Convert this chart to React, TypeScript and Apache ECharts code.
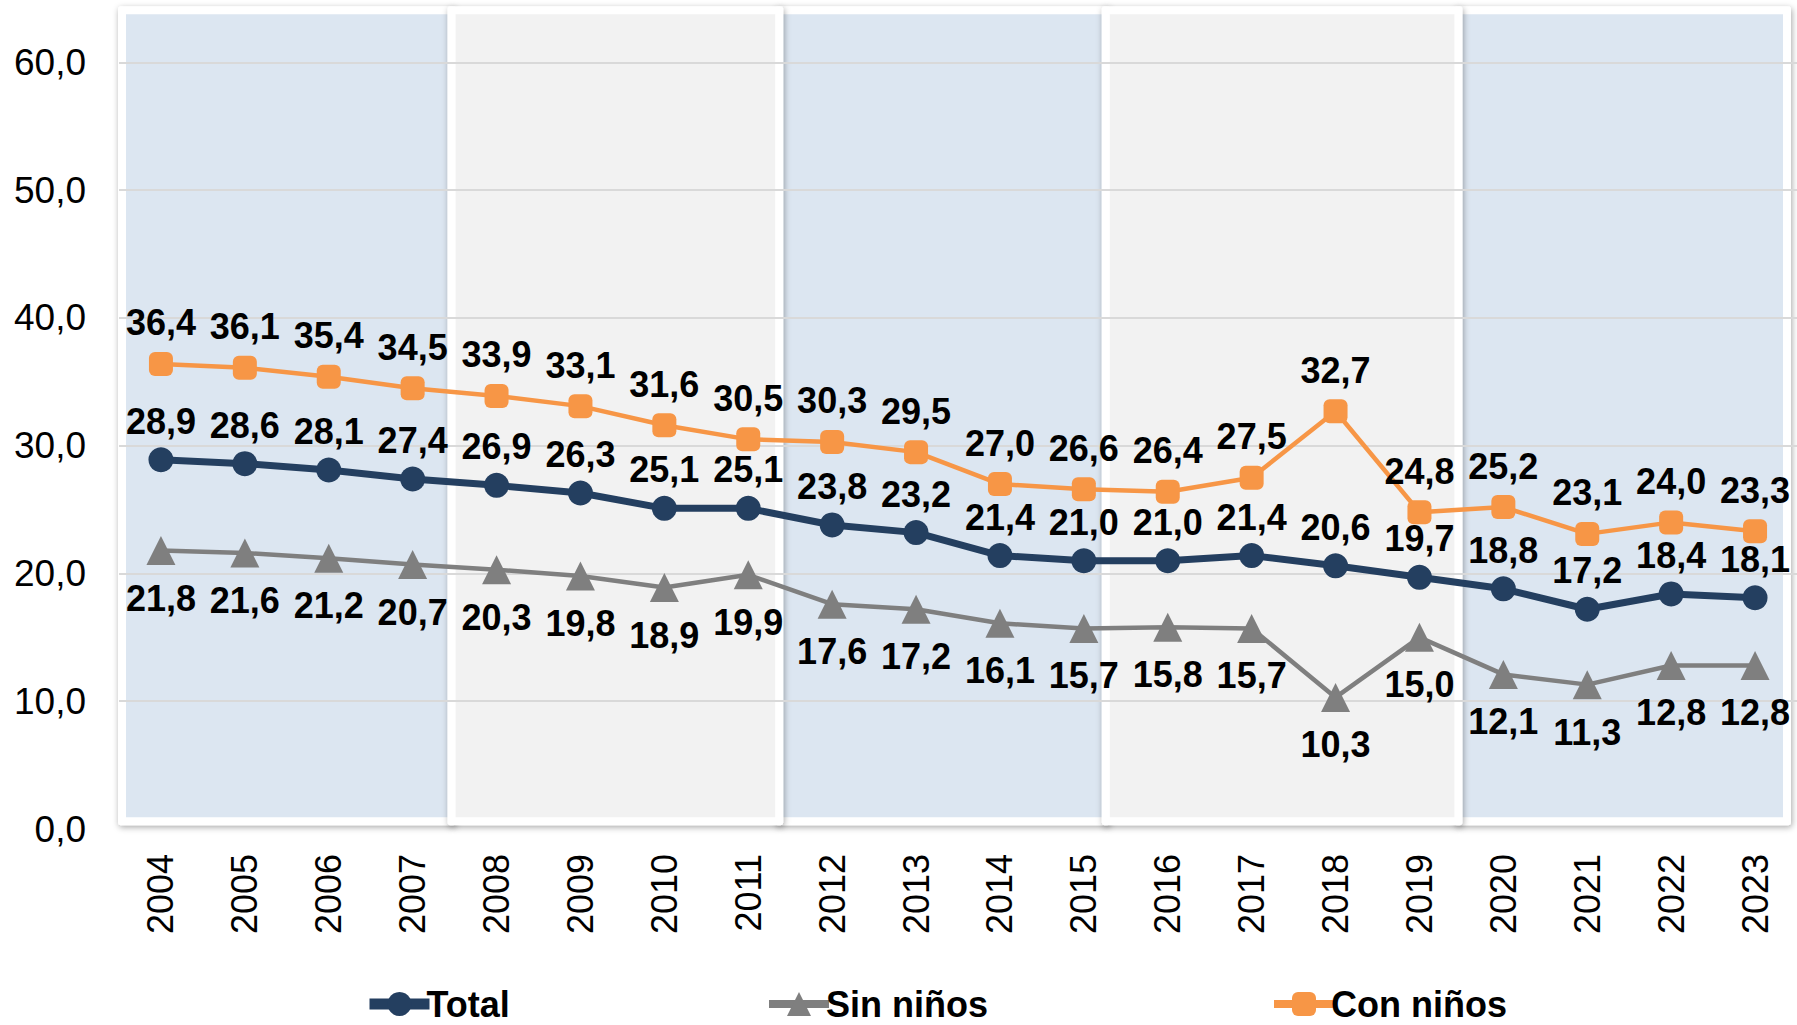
import React, { useEffect, useRef } from "react";
import * as echarts from "echarts";

const years = ["2004", "2005", "2006", "2007", "2008", "2009", "2010", "2011", "2012", "2013", "2014", "2015", "2016", "2017", "2018", "2019", "2020", "2021", "2022", "2023"];
const total = [28.9, 28.6, 28.1, 27.4, 26.9, 26.3, 25.1, 25.1, 23.8, 23.2, 21.4, 21.0, 21.0, 21.4, 20.6, 19.7, 18.8, 17.2, 18.4, 18.1];
const sinNinos = [21.8, 21.6, 21.2, 20.7, 20.3, 19.8, 18.9, 19.9, 17.6, 17.2, 16.1, 15.7, 15.8, 15.7, 10.3, 15.0, 12.1, 11.3, 12.8, 12.8];
const conNinos = [36.4, 36.1, 35.4, 34.5, 33.9, 33.1, 31.6, 30.5, 30.3, 29.5, 27.0, 26.6, 26.4, 27.5, 32.7, 24.8, 25.2, 23.1, 24.0, 23.3];
// background panels: [first category index, last category index]
const panelBlue = [[0, 3], [8, 11], [16, 19]];
const panelGray = [[4, 7], [12, 15]];

// layout-only: pixel nudges of the decorative panel edges (edge k sits before category 4k)
const EDGE_NUDGE: Record<number, number> = { 0: 0, 4: -3, 8: -11, 12: -20, 16: -3, 20: 0 };

const FONT = "'Liberation Sans', Arial, sans-serif";
const fmt = (v: number) => v.toFixed(1).replace(".", ",");

export default function App() {
  const ref = useRef<HTMLDivElement>(null);
  useEffect(() => {
    if (!ref.current) return;
    const chart = echarts.init(ref.current, null, { renderer: "svg" });
    const panelData = [
      ...panelBlue.map((p) => [p[0], p[1], 64.4, 0.3, 0]),
      ...panelGray.map((p) => [p[0], p[1], 64.4, 0.3, 1]),
    ];
    const nCat = years.length;
    const labelStyle = {
      show: true,
      fontFamily: FONT,
      fontSize: 36,
      fontWeight: "bold" as const,
      color: "#000",
      formatter: (p: any) => fmt(p.value),
    };
    const legendBase = {
      itemWidth: 60,
      itemHeight: 30,
      itemGap: 0,
      padding: 0,
      top: 986,
      textStyle: { fontFamily: FONT, fontSize: 36, fontWeight: "bold", color: "#000", padding: [0, 0, 0, -8] },
    };
    chart.setOption({
      animation: false,
      backgroundColor: "#fff",
      grid: { left: 119, right: 0, top: 5, bottom: 196, containLabel: false },
      xAxis: {
        type: "category",
        data: years,
        boundaryGap: true,
        axisLine: { show: false },
        axisTick: { show: false },
        axisLabel: { rotate: 90, fontSize: 36, fontFamily: FONT, color: "#000", margin: 25 },
        splitLine: { show: false },
      },
      yAxis: {
        type: "value",
        min: 0,
        max: 64.5,
        interval: 10,
        axisLine: { show: false },
        axisTick: { show: false },
        axisLabel: {
          fontSize: 37,
          fontFamily: FONT,
          color: "#000",
          margin: 33,
          showMaxLabel: false,
          formatter: (v: number) => fmt(v),
        },
        splitLine: { show: true, showMinLine: false, showMaxLine: false, lineStyle: { color: "#D9D9D9", width: 2 } },
      },
      legend: [
        { ...legendBase, data: ["Total"], left: 364, lineStyle: { width: 11 } },
        { ...legendBase, data: ["Sin niños"], left: 765, lineStyle: { width: 8 } },
        { ...legendBase, data: ["Con niños"], left: 1270, lineStyle: { width: 8 } },
      ],
      series: [
        {
          type: "custom",
          name: "panels",
          silent: true,
          clip: false,
          z: -1,
          data: panelData,
          encode: { x: [0, 1], y: [2, 3] },
          renderItem: (params: any, api: any) => {
            const s = api.value(0);
            const e = api.value(1);
            const kind = api.value(4);
            const bw = api.size([1, 0])[0];
            const p1 = api.coord([s, api.value(2)]);
            const p2 = api.coord([e, api.value(3)]);
            let x1 = p1[0] - bw / 2 - 4 + (EDGE_NUDGE[s] || 0);
            let x2 = p2[0] + bw / 2 + 4 + (EDGE_NUDGE[e + 1] || 0);
            if (s === 0) x1 = p1[0] - bw / 2 - 1;
            if (e === nCat - 1) x2 = p2[0] + bw / 2 - 6;
            const y1 = p1[1];
            const y2 = p2[1];
            const inset = 8;
            return {
              type: "group",
              children: [
                {
                  type: "rect",
                  shape: { x: x1, y: y1, width: x2 - x1, height: y2 - y1, r: 3 },
                  style: {
                    fill: "#FFFFFF",
                    shadowBlur: 6,
                    shadowColor: "rgba(0,0,0,0.35)",
                    shadowOffsetX: 1,
                    shadowOffsetY: 2,
                  },
                },
                {
                  type: "rect",
                  shape: { x: x1 + inset, y: y1 + inset, width: x2 - x1 - 2 * inset, height: y2 - y1 - 2 * inset },
                  style: { fill: kind === 0 ? "#DCE6F1" : "#F2F2F2" },
                },
              ],
            };
          },
        },
        {
          type: "line",
          name: "Total",
          data: total,
          z: 5,
          symbol: "circle",
          symbolSize: 25,
          lineStyle: { color: "#243F60", width: 7 },
          itemStyle: { color: "#243F60" },
          label: { ...labelStyle, position: "top", distance: 8 },
        },
        {
          type: "line",
          name: "Sin niños",
          data: sinNinos,
          z: 3,
          symbol: "triangle",
          symbolSize: 29,
          lineStyle: { color: "#7F7F7F", width: 4.5 },
          itemStyle: { color: "#7F7F7F" },
          label: { ...labelStyle, position: "bottom", distance: 15 },
        },
        {
          type: "line",
          name: "Con niños",
          data: conNinos,
          z: 4,
          symbol: "roundRect",
          symbolSize: 24,
          lineStyle: { color: "#F79646", width: 4.5 },
          itemStyle: { color: "#F79646" },
          label: { ...labelStyle, position: "top", distance: 11 },
        },
      ],
    });
    return () => chart.dispose();
  }, []);
  return <div ref={ref} style={{ position: "fixed", left: 0, top: 0, width: 1797, height: 1025 }} />;
}
